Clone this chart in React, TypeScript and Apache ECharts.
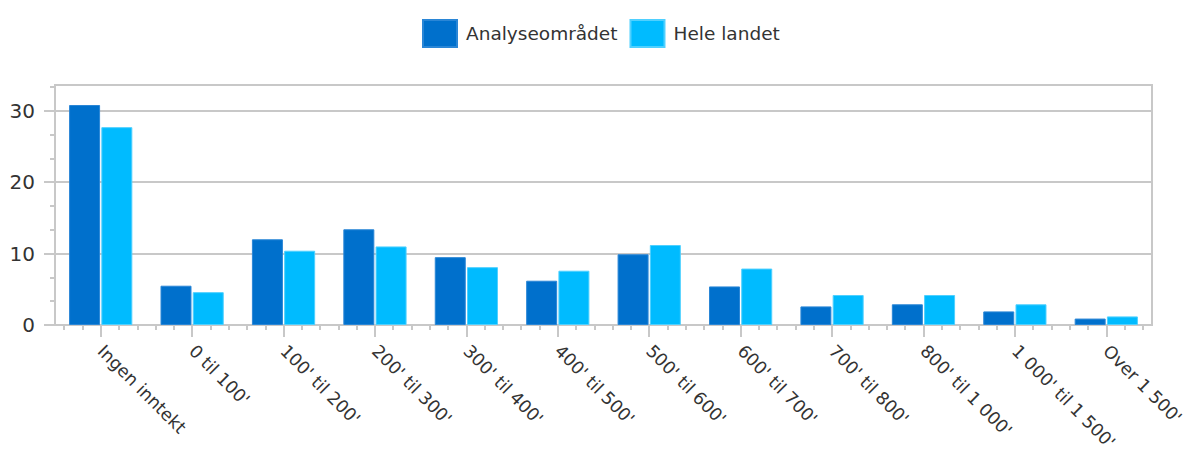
import React, { useEffect, useRef } from "react";
import * as echarts from "echarts";

const categories = [
  "Ingen inntekt",
  "0 til 100'",
  "100' til 200'",
  "200' til 300'",
  "300' til 400'",
  "400' til 500'",
  "500' til 600'",
  "600' til 700'",
  "700' til 800'",
  "800' til 1 000'",
  "1 000' til 1 500'",
  "Over 1 500'",
];
const analyseomradet = [30.8, 5.5, 12.0, 13.4, 9.5, 6.2, 9.9, 5.4, 2.6, 2.9, 1.9, 0.9];
const heleLandet = [27.7, 4.6, 10.4, 11.0, 8.1, 7.6, 11.2, 7.9, 4.2, 4.2, 2.9, 1.2];
const yTickValues = [0, 10, 20, 30];
const yMinorTicks = [3.333, 6.667, 13.333, 16.667, 23.333, 26.667, 33.333];
const xMinorTicks: number[] = [];
for (let i = 0; i < categories.length; i++) {
  [0.1, 0.3, 0.7, 0.9].forEach((f) => xMinorTicks.push(i + f));
}

const GRID_COLOR = "#c8c8c8";
const TEXT_COLOR = "#333333";
const FONT = "DejaVu Sans";

export default function App() {
  const ref = useRef<HTMLDivElement>(null);
  useEffect(() => {
    if (!ref.current) return;
    const chart = echarts.init(ref.current, undefined, { renderer: "svg" });
    chart.setOption({
      animation: false,
      backgroundColor: "#ffffff",
      textStyle: { fontFamily: FONT },
      legend: {
        top: 14,
        left: 417,
        icon: "rect",
        itemWidth: 34,
        itemHeight: 27,
        itemGap: 12,
        textStyle: { fontSize: 18.5, color: TEXT_COLOR, fontFamily: FONT, padding: [0, 0, 0, 4] },
        data: ["Analyseområdet", "Hele landet"],
      },
      grid: {
        left: 55,
        right: 38,
        top: 85,
        bottom: 128,
        show: true,
        containLabel: false,
        outerBoundsMode: "none",
        borderColor: GRID_COLOR,
        borderWidth: 2,
      },
      xAxis: [
        {
          type: "category",
          data: categories,
          boundaryGap: true,
          axisLine: { show: true, lineStyle: { color: GRID_COLOR, width: 2 } },
          axisTick: { show: true, alignWithLabel: true, length: 12, lineStyle: { color: GRID_COLOR, width: 2 } },
          axisLabel: {
            rotate: -45,
            interval: 0,
            margin: 23,
            fontSize: 17.5,
            color: TEXT_COLOR,
            fontFamily: FONT,
          },
          splitLine: { show: false },
        },
        {
          type: "value",
          min: 0,
          max: categories.length,
          position: "bottom",
          axisLine: { show: false },
          axisLabel: { show: false },
          splitLine: { show: false },
          axisTick: {
            show: true,
            length: 5,
            customValues: xMinorTicks,
            lineStyle: { color: GRID_COLOR, width: 2 },
          },
        },
      ],
      yAxis: [
        {
          type: "value",
          min: 0,
          max: 33.6,
          interval: 10,
          axisLine: { show: true, lineStyle: { color: GRID_COLOR, width: 2 } },
          axisTick: { show: true, length: 11, customValues: yTickValues, lineStyle: { color: GRID_COLOR, width: 2 } },
          axisLabel: {
            customValues: yTickValues,
            margin: 20,
            fontSize: 20,
            color: TEXT_COLOR,
            fontFamily: FONT,
          },
          splitLine: { show: true, lineStyle: { color: GRID_COLOR, width: 2 } },
        },
        {
          type: "value",
          min: 0,
          max: 33.6,
          position: "left",
          axisLine: { show: false },
          axisLabel: { show: false },
          splitLine: { show: false },
          axisTick: { show: true, length: 5, customValues: yMinorTicks, lineStyle: { color: GRID_COLOR, width: 2 } },
        },
      ],
      series: [
        {
          name: "Analyseområdet",
          type: "bar",
          data: analyseomradet,
          barWidth: 31,
          barGap: "4%",
          itemStyle: { color: "#0070cc", borderColor: "#2a86d6", borderWidth: 1 },
        },
        {
          name: "Hele landet",
          type: "bar",
          data: heleLandet,
          barWidth: 31,
          itemStyle: { color: "#00bbff", borderColor: "#4fd0ff", borderWidth: 1 },
        },
      ],
    });
    return () => chart.dispose();
  }, []);
  return (
    <div
      ref={ref}
      style={{ position: "fixed", left: 0, top: 0, width: 1190, height: 453 }}
    />
  );
}
